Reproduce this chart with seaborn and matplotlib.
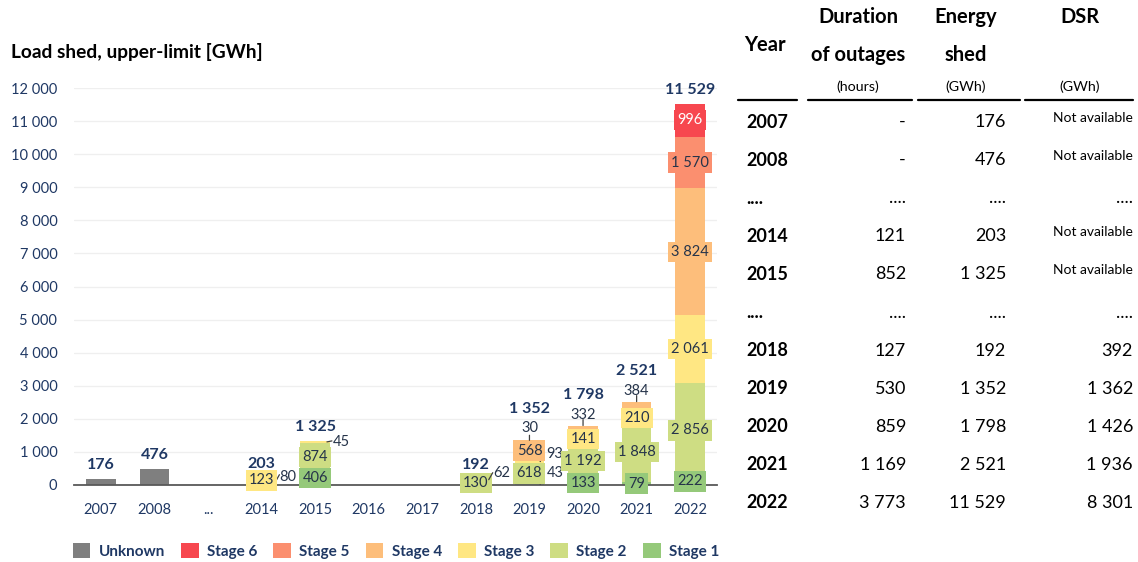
import numpy as np
import pandas as pd
import matplotlib
matplotlib.use("Agg")
import matplotlib.pyplot as plt
from matplotlib.patches import Patch
from matplotlib.lines import Line2D
import seaborn as sns

# ---------------- data ----------------
categories = ["2007", "2008", "...", "2014", "2015", "2016", "2017",
              "2018", "2019", "2020", "2021", "2022"]
unknown = [176, 476, 0, 0, 0, 0, 0, 0, 0, 0, 0, 0]
stage1 = [0, 0, 0, 0, 406, 0, 0, 0, 43, 133, 79, 222]
stage2 = [0, 0, 0, 80, 874, 0, 0, 130, 618, 1192, 1848, 2856]
stage3 = [0, 0, 0, 123, 45, 0, 0, 62, 93, 141, 210, 2061]
stage4 = [0, 0, 0, 0, 0, 0, 0, 0, 568, 332, 384, 3824]
stage5 = [0, 0, 0, 0, 0, 0, 0, 0, 0, 0, 0, 1570]
stage6 = [0, 0, 0, 0, 0, 0, 0, 0, 30, 0, 0, 996]
y_ticks = [0, 1000, 2000, 3000, 4000, 5000, 6000, 7000, 8000, 9000, 10000, 11000, 12000]

table_years = ["2007", "2008", "....", "2014", "2015", "....", "2018", "2019", "2020", "2021", "2022"]
table_duration = ["-", "-", "....", "121", "852", "....", "127", "530", "859", "1 169", "3 773"]
table_energy = ["176", "476", "....", "203", "1 325", "....", "192", "1 352", "1 798", "2 521", "11 529"]
table_dsr = ["Not available", "Not available", "....", "Not available", "Not available", "....",
             "392", "1 362", "1 426", "1 936", "8 301"]

# ---------------- style ----------------
levels = ["Unknown", "Stage 1", "Stage 2", "Stage 3", "Stage 4", "Stage 5", "Stage 6"]
series = [unknown, stage1, stage2, stage3, stage4, stage5, stage6]
colors = {"Unknown": "#7F7F7F", "Stage 1": "#95C97A", "Stage 2": "#CEDD83",
          "Stage 3": "#FFE783", "Stage 4": "#FDBE7B", "Stage 5": "#FB8F6F",
          "Stage 6": "#F7474F"}
NAVY = "#1F3864"
LBL = "#26344A"

# labels placed outside with a leader line:
# (category, level) -> (anchor, anchor x shift, line dx, line dy, text dx, text dy)  [pixels]
outside = {("2014", "Stage 2"): ("right", 0.24, 5, 9, 13, 7),
           ("2015", "Stage 3"): ("right", 0.22, 5, 1, 14, 0),
           ("2018", "Stage 3"): ("right", 0.24, 4, 7, 13, 7),
           ("2019", "Stage 1"): ("right", 0.20, 4, 9, 15, 11),
           ("2019", "Stage 3"): ("right", 0.20, 4, 9, 15, 8),
           ("2019", "Stage 6"): ("top", 0.0, 0, 5, 0, 12),
           ("2020", "Stage 4"): ("top", 0.0, 0, 6, 0, 11),
           ("2021", "Stage 4"): ("top", 0.0, 0, 6, 0, 11)}

sns.set_theme(style="white")
plt.rcParams["font.family"] = ["Lato", "DejaVu Sans"]

W, H = 1138, 562
fig = plt.figure(figsize=(W / 100, H / 100), dpi=100)
fx = lambda px: px / W
fy = lambda py: 1 - py / H

ax = fig.add_axes([fx(74), fy(485), fx(717) - fx(74), fy(88) - fy(485)])

df = pd.DataFrame({lv: s for lv, s in zip(levels, series)}, index=categories)
cum = df.cumsum(axis=1)

# overlay cumulative bars from top layer down
for lv in levels[::-1]:
    sns.barplot(x=categories, y=cum[lv].values, color=colors[lv], order=categories,
                width=0.55, saturation=1, errorbar=None, linewidth=0, ax=ax, zorder=2)

def fmt(v):
    return f"{int(v):,}".replace(",", " ")

bottoms = cum.shift(1, axis=1).fillna(0)
for i, cat in enumerate(categories):
    for lv in levels:
        v = df.loc[cat, lv]
        if v <= 0 or lv == "Unknown":
            continue
        mid = bottoms.loc[cat, lv] + v / 2
        key = (cat, lv)
        if key in outside:
            anchor, sx, ldx, ldy, tdx, tdy = outside[key]
            if anchor == "right":
                xy = (i + sx, mid)
            else:
                xy = (i, bottoms.loc[cat, lv] + v)
            ax.annotate("", xy=xy, xytext=(ldx, ldy), textcoords="offset pixels",
                        arrowprops=dict(arrowstyle="-", color="#404040", lw=0.9,
                                        shrinkA=0, shrinkB=0),
                        annotation_clip=False, zorder=6)
            ax.annotate(fmt(v), xy=xy, xytext=(tdx, tdy), textcoords="offset pixels",
                        ha="center", va="center", fontsize=10.5, color=LBL,
                        annotation_clip=False, zorder=6)
        else:
            ax.text(i, mid, fmt(v), ha="center", va="center", fontsize=10.5,
                    color="white" if lv == "Stage 6" else LBL, zorder=6,
                    bbox=dict(boxstyle="square,pad=0.22", fc=colors[lv], ec="none"))
    total = df.loc[cat].sum()
    if total > 0:
        has_top = any((cat, lv) in outside and outside[(cat, lv)][0] == "top" for lv in levels)
        off = 31 if has_top else 14
        ax.annotate(fmt(total), xy=(i, total), xytext=(0, off), textcoords="offset pixels",
                    ha="center", va="center", fontsize=11.5, fontweight="bold",
                    color=NAVY, annotation_clip=False, zorder=6)

ax.set_ylim(0, 12000)
ax.set_xlim(-0.5, len(categories) - 0.5)
ax.set_yticks(y_ticks)
ax.set_yticklabels([fmt(t) for t in y_ticks])
ax.set_xticks(range(len(categories)))
ax.set_xticklabels(categories)
ax.tick_params(axis="both", length=0, labelsize=10.5, labelcolor=NAVY)
ax.tick_params(axis="x", pad=13)
ax.tick_params(axis="y", pad=12)
ax.yaxis.grid(True, color="#EFEFEF", lw=0.9)
ax.set_axisbelow(True)
for s in ["top", "right", "left"]:
    ax.spines[s].set_visible(False)
ax.spines["bottom"].set_color("#595959")
ax.spines["bottom"].set_linewidth(1.3)
ax.spines["bottom"].set_zorder(5)
ax.set_xlabel("")
ax.set_ylabel("")

fig.text(fx(11), fy(52), "Load shed, upper-limit [GWh]", fontsize=13.8, fontweight="bold",
         color="black", ha="left", va="center")

# legend
leg_order = ["Unknown", "Stage 6", "Stage 5", "Stage 4", "Stage 3", "Stage 2", "Stage 1"]
handles = [Patch(facecolor=colors[l], edgecolor="none") for l in leg_order]
fig.legend(handles, leg_order, loc="center", bbox_to_anchor=(fx(396), fy(551)), ncol=7,
           frameon=False, handlelength=1.15, handleheight=1.15, handletextpad=0.55,
           columnspacing=1.05, prop={"weight": "bold", "size": 11}, labelcolor=NAVY)

# ---------------- table ----------------
hdr = dict(fontsize=14.5, fontweight="bold", color="black", ha="center", va="center")
fig.text(fx(765), fy(45), "Year", **hdr)
fig.text(fx(858), fy(17), "Duration", **hdr)
fig.text(fx(858), fy(55), "of outages", **hdr)
fig.text(fx(966), fy(17), "Energy", **hdr)
fig.text(fx(966), fy(55), "shed", **hdr)
fig.text(fx(1080), fy(17), "DSR", **hdr)
unit = dict(fontsize=10.3, color="black", ha="center", va="center")
fig.text(fx(858), fy(87), "(hours)", **unit)
fig.text(fx(966), fy(87), "(GWh)", **unit)
fig.text(fx(1080), fy(87), "(GWh)", **unit)
for x0, x1 in [(738, 797), (808, 912), (918, 1020), (1025, 1133)]:
    fig.add_artist(Line2D([fx(x0), fx(x1)], [fy(100), fy(100)], color="black", lw=1.6,
                          transform=fig.transFigure))

row_y0, row_dy = 122, 38.1
for r, (yr, du, en, ds) in enumerate(zip(table_years, table_duration, table_energy, table_dsr)):
    yy = fy(row_y0 + r * row_dy)
    fig.text(fx(746), yy, yr, fontsize=13, fontweight="bold", color="black", ha="left", va="center")
    fig.text(fx(906), yy, du, fontsize=13, color="black", ha="right", va="center")
    fig.text(fx(1006), yy, en, fontsize=13, color="black", ha="right", va="center")
    if ds == "Not available":
        fig.text(fx(1133), fy(row_y0 + r * row_dy - 4), ds, fontsize=10, color="black",
                 ha="right", va="center")
    else:
        fig.text(fx(1133), yy, ds, fontsize=13, color="black", ha="right", va="center")

fig.savefig("out.png", dpi=100)
